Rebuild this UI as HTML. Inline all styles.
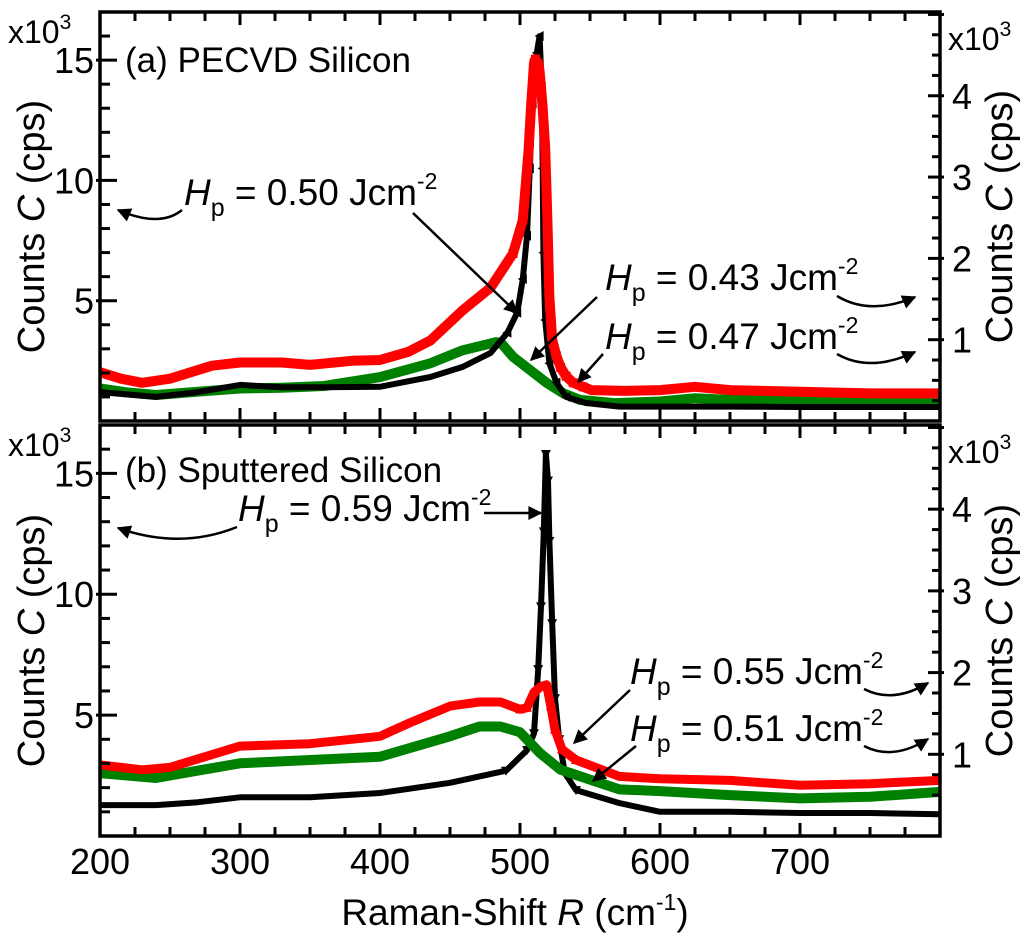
<!DOCTYPE html>
<html><head><meta charset="utf-8"><style>
html,body{margin:0;padding:0;background:#fff;}
svg{display:block;font-family:"Liberation Sans",Arial,sans-serif;}
</style></head><body>
<svg id="chart" width="1024" height="934" viewBox="0 0 1024 934" xmlns="http://www.w3.org/2000/svg">
<g id="content"></g>
</svg>
<script>
// ---------- data ----------
const xTicks = [200,300,400,500,600,700];
const leftTicks = [5,10,15];
const rightTicks = [1,2,3,4];
// panel a
const aBlkX=[200,220,240,270,300,330,360,400,436,459,479,491,498,502,505,507,509,512,514,515.5,516.2,516.7,518,521,526,533,547,571,600,650,700,750,800];
const aBlkY=[1.2,1.1,1.0,1.2,1.5,1.4,1.4,1.42,1.83,2.25,2.83,3.67,4.5,5.9,7.7,10.5,13.2,15.3,16,13.9,10.5,7,4.2,2.4,1.6,1.0,0.75,0.6,0.6,0.6,0.58,0.58,0.58];
const aRedX=[200,215,230,250,280,300,330,350,380,400,420,436,459,479,495,502,506,508,510,511,513,514,516,518,519.6,521,523,526,529,533,538,545,551,575,600,625,650,700,750,800];
const aRedY=[0.6,0.52,0.47,0.52,0.68,0.72,0.72,0.69,0.74,0.75,0.85,0.99,1.36,1.64,2.06,2.47,3.3,3.9,4.4,4.45,4.4,4.3,3.9,3.36,2.47,1.52,1.0,0.8,0.66,0.55,0.47,0.42,0.38,0.37,0.38,0.42,0.38,0.36,0.34,0.34];
const aGrnX=[200,220,240,270,300,330,360,400,436,459,483,487,495,507,519,531,543,567,600,625,650,700,750,800];
const aGrnY=[0.4,0.35,0.32,0.36,0.4,0.41,0.43,0.54,0.71,0.87,0.97,0.95,0.79,0.63,0.47,0.34,0.26,0.22,0.24,0.28,0.26,0.24,0.24,0.25];
// panel b
const bBlkX=[200,240,270,300,350,400,450,490,505,510,513,515,517,518.5,520,521,523,525,528,532,540,571,600,650,700,750,800];
const bBlkY=[1.28,1.28,1.4,1.6,1.6,1.78,2.2,2.7,3.55,4.25,6.9,9.5,12.6,15.8,14.7,12.2,8.8,5.7,4.0,2.6,1.9,1.36,1.0,1.0,0.95,0.95,0.9];
const bRedX=[200,230,250,300,350,400,422,450,471,486,500,505,510,515,519,522,525,530,540,571,600,650,700,750,800];
const bRedY=[0.87,0.81,0.84,1.1,1.13,1.22,1.39,1.59,1.64,1.64,1.55,1.57,1.76,1.83,1.85,1.59,1.3,1.06,0.93,0.73,0.7,0.68,0.62,0.64,0.68];
const bGrnX=[200,240,270,300,350,400,450,471,486,500,514,529,550,571,600,650,700,750,800];
const bGrnY=[0.77,0.71,0.8,0.89,0.93,0.97,1.22,1.34,1.34,1.27,1.02,0.81,0.69,0.57,0.55,0.5,0.46,0.48,0.54];

// ---------- geometry ----------
const NS="http://www.w3.org/2000/svg";
const root=document.getElementById('content');
const X0=100,X1=940;
function xs(v){return X0+(v-200)/600*(X1-X0);}
const panels={a:{top:12,bot:421},b:{top:425,bot:836}};
function yl(p,v){const P=panels[p];return P.bot-(v/17)*(P.bot-P.top);}
function yr(p,v){const P=panels[p];return P.bot-(v/5.03)*(P.bot-P.top);}
function mk(tag,attrs,parent){const e=document.createElementNS(NS,tag);for(const k in attrs)e.setAttribute(k,attrs[k]);(parent||root).appendChild(e);return e;}
function txt(s,x,y,size,parent,anchor){const t=mk('text',{x:x,y:y,'font-size':size,'text-anchor':anchor||'start',fill:'#000'},parent);t.textContent=s;return t;}

function series(p,X,Y,axis,color,w,marker,name){
  const g=mk('g',{});
  
  
  const f=axis==='L'?yl:yr;
  const pts=X.map((v,i)=>xs(v).toFixed(1)+','+f(p,Y[i]).toFixed(1)).join(' ');
  const pl=mk('polyline',{points:pts,fill:'none',stroke:color,'stroke-width':w,'stroke-linejoin':'round'},g);
  
  
  X.forEach((v,i)=>{
    if(v<488||v>545||!marker)return;
    const cx=xs(v),cy=f(p,Y[i]);let m;
    if(marker==='sq')m=mk('rect',{x:cx-4.5,y:cy-4.5,width:9,height:9,fill:color},g);
    else{let d;
      if(marker==='left')d=`M${cx-5},${cy} L${cx+4},${cy-5} L${cx+4},${cy+5}Z`;
      else if(marker==='down')d=`M${cx-5},${cy-4} L${cx+5},${cy-4} L${cx},${cy+5}Z`;
      else d=`M${cx-5},${cy+4} L${cx+5},${cy+4} L${cx},${cy-5}Z`;
      m=mk('path',{d:d,fill:color},g);}
    
    
  });
}

function frame(p){
  const P=panels[p];
  const g=mk('g',{});
  
  
  for(let v=200;v<800;v+=25){
    const major=(v%100===0);const L=major?13:9;const x=xs(v);
    mk('line',{x1:x,y1:P.bot,x2:x,y2:P.bot-L,stroke:'#000','stroke-width':3},g);
    mk('line',{x1:x,y1:P.top,x2:x,y2:P.top+L,stroke:'#000','stroke-width':3},g);
  }
  for(let v=1;v<=17;v++){
    const major=(v%5===0);const y=yl(p,v);
    mk('line',{x1:major?X0-4:X0,y1:y,x2:X0+(major?17:10),y2:y,stroke:'#000','stroke-width':3},g);
  }
  for(let k=1;k<=20;k++){
    const v=k*0.25;const major=(k%4===0);const y=yr(p,v);
    mk('line',{x1:X1-(major?12:8),y1:y,x2:major?X1+4:X1,y2:y,stroke:'#000','stroke-width':3},g);
  }
  mk('rect',{x:X0,y:P.top,width:X1-X0,height:P.bot-P.top,fill:'none',stroke:'#000','stroke-width':3.5},g);
  leftTicks.forEach(v=>{const t=txt(String(v),X0-6,yl(p,v)+13,36,g,'end');
    });
  rightTicks.forEach(v=>{const t=txt(String(v),X1+12,yr(p,v)+13,36,g,'start');
    });
  const l=mk('text',{x:8,y:P.top+31,'font-size':32},g);l.innerHTML='x10<tspan dy="-14" font-size="21">3</tspan>';
  
  const r=mk('text',{x:948,y:P.top+38,'font-size':32},g);r.innerHTML='x10<tspan dy="-14" font-size="21">3</tspan>';
  
  const cy=(P.top+P.bot)/2+10;
  const ly=mk('text',{x:0,y:0,'font-size':38,'text-anchor':'middle',transform:`translate(44,${cy}) rotate(-90)`},g);
  ly.innerHTML='Counts <tspan font-style="italic">C</tspan> (cps)';
  
  const ry=mk('text',{x:0,y:0,'font-size':38,'text-anchor':'middle',transform:`translate(1012,${cy-10}) rotate(-90)`},g);
  ry.innerHTML='Counts <tspan font-style="italic">C</tspan> (cps)';
  
}

series('a',aGrnX,aGrnY,'R','#008000',10,null,'series-a-047');
series('a',aBlkX,aBlkY,'L','#000',6,'left','series-a-050');
series('a',aRedX,aRedY,'R','#ff0000',10,'sq','series-a-043');
series('b',bBlkX,bBlkY,'L','#000',6,'down','series-b-059');
series('b',bGrnX,bGrnY,'R','#008000',10,null,'series-b-051');
series('b',bRedX,bRedY,'R','#ff0000',9,'up','series-b-055');
frame('a');frame('b');

xTicks.forEach(v=>{const t=txt(String(v),xs(v),874,36,root,'middle');
  });
const xt=mk('text',{x:515,y:925,'font-size':37,'text-anchor':'middle'});
xt.innerHTML='Raman-Shift <tspan font-style="italic">R</tspan> (cm<tspan dy="-15" font-size="23">-1</tspan><tspan dy="15">)</tspan>';


function label(x,y,val,name){
  const t=mk('text',{x:x,y:y,'font-size':37});
  t.innerHTML=`<tspan font-style="italic">H</tspan><tspan dy="11" font-size="25">p</tspan><tspan dy="-11"> = ${val} Jcm</tspan><tspan dy="-16" font-size="23">-2</tspan>`;
  
}
const defs=mk('defs',{});
const mkr=mk('marker',{id:'ah',viewBox:'0 0 10 10',refX:9,refY:5,markerWidth:20,markerHeight:14,orient:'auto-start-reverse',markerUnits:'userSpaceOnUse'},defs);
mk('path',{d:'M0,0 L10,5 L0,10 Z',fill:'#000'},mkr);
function arrow(d,name){const a=mk('path',{d:d,fill:'none',stroke:'#000','stroke-width':2.5,'marker-end':'url(#ah)'});
  }

const ta=txt('(a) PECVD Silicon',125,72,35);
const tb=txt('(b) Sputtered Silicon',125,482,35);

label(184,205,'0.50','label-a-050');
arrow('M182,210 Q160,228 118,210','arrow-a-050-left');
arrow('M413,213 L517,313','arrow-a-050-curve');
label(605,290,'0.43','label-a-043');
arrow('M597,297 L531,360','arrow-a-043-curve');
arrow('M837,296 Q870,316 915,297','arrow-a-043-right');
label(605,349,'0.47','label-a-047');
arrow('M603,354 L578,382','arrow-a-047-curve');
arrow('M837,354 Q870,373 915,352','arrow-a-047-right');

label(238,521,'0.59','label-b-059');
arrow('M484,513 L541,513','arrow-b-059-curve');
arrow('M237,527 Q180,550 118,528','arrow-b-059-left');
label(630,684,'0.55','label-b-055');
arrow('M630,690 L574,743','arrow-b-055-curve');
arrow('M864,689 Q893,704 928,683','arrow-b-055-right');
label(630,741,'0.51','label-b-051');
arrow('M636,746 L593,781','arrow-b-051-curve');
arrow('M864,746 Q893,761 928,739','arrow-b-051-right');
</script>
</body></html>
